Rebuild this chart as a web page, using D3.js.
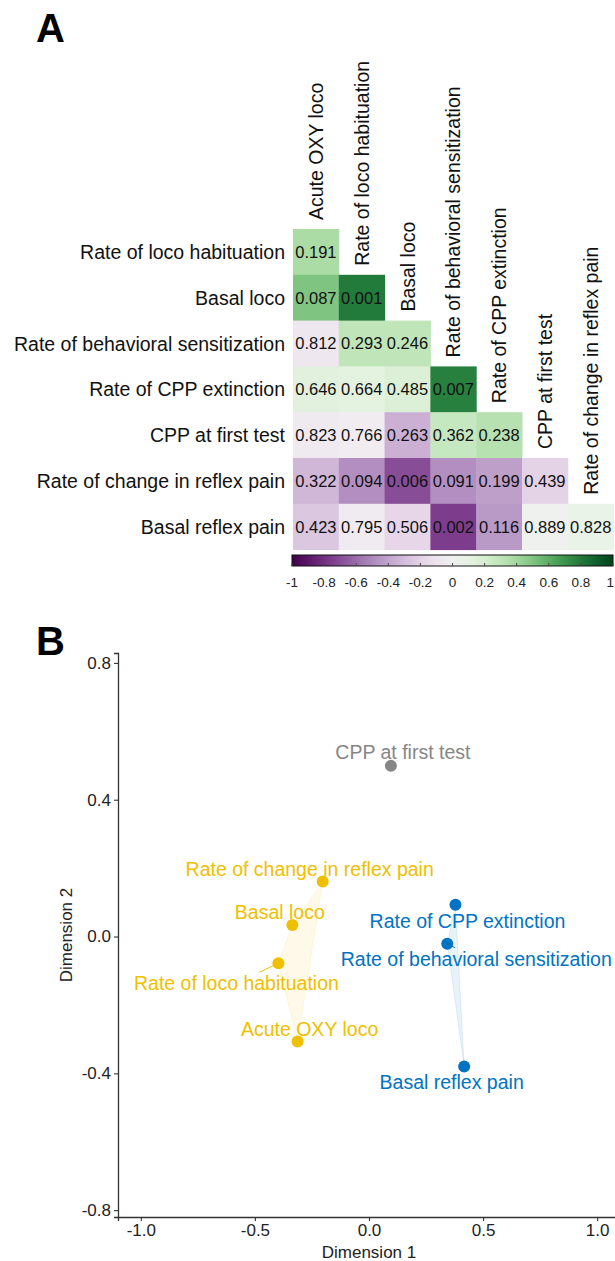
<!DOCTYPE html>
<html>
<head>
<meta charset="utf-8">
<script src="https://cdn.jsdelivr.net/npm/d3@7"></script>
<style>
  html, body { margin: 0; padding: 0; background: #fff; }
  svg { display: block; font-family: "Liberation Sans", Arial, sans-serif; }
</style>
</head>
<body>
<svg id="chart" width="615" height="1261"></svg>
<script>
// ---------- Panel A data ----------
const colLabels = ["Acute OXY loco", "Rate of loco habituation", "Basal loco",
  "Rate of behavioral sensitization", "Rate of CPP extinction", "CPP at first test",
  "Rate of change in reflex pain"];
const rowLabels = ["Rate of loco habituation", "Basal loco", "Rate of behavioral sensitization",
  "Rate of CPP extinction", "CPP at first test", "Rate of change in reflex pain", "Basal reflex pain"];
// correlation coefficients (cell colour), lower triangle, row by row
const corrRow1 = [0.37];
const corrRow2 = [0.50, 0.79];
const corrRow3 = [-0.08, 0.30, 0.30];
const corrRow4 = [0.14, 0.12, 0.17, 0.77];
const corrRow5 = [-0.06, -0.04, -0.35, 0.27, 0.33];
const corrRow6 = [-0.32, -0.48, -0.70, -0.48, -0.42, -0.20];
const corrRow7 = [-0.25, -0.05, -0.18, -0.75, -0.44, 0.01, 0.08];
// p-values printed in cells
const pRow1 = ["0.191"];
const pRow2 = ["0.087", "0.001"];
const pRow3 = ["0.812", "0.293", "0.246"];
const pRow4 = ["0.646", "0.664", "0.485", "0.007"];
const pRow5 = ["0.823", "0.766", "0.263", "0.362", "0.238"];
const pRow6 = ["0.322", "0.094", "0.006", "0.091", "0.199", "0.439"];
const pRow7 = ["0.423", "0.795", "0.506", "0.002", "0.116", "0.889", "0.828"];
const legendTicks = [-1, -0.8, -0.6, -0.4, -0.2, 0, 0.2, 0.4, 0.6, 0.8, 1];

// ---------- Panel B data ----------
const mdsNames = ["Acute OXY loco", "Rate of loco habituation", "Basal loco",
  "Rate of behavioral sensitization", "Rate of CPP extinction", "CPP at first test",
  "Rate of change in reflex pain", "Basal reflex pain"];
const dim1 = [-0.313, -0.397, -0.336, 0.343, 0.379, 0.096, -0.203, 0.417];
const dim2 = [-0.307, -0.078, 0.034, -0.021, 0.093, 0.499, 0.161, -0.380];
const cluster = [1, 1, 1, 2, 2, 3, 1, 2];
const xTicks = [-1.0, -0.5, 0.0, 0.5, 1.0];
const yTicks = [-0.8, -0.4, 0.0, 0.4, 0.8];

// ---------- layout / style ----------
const labelOffsets = [[12, -13], [-42, 20], [-12.5, -12.7], [29, 15], [12, 16], [12, -14], [-13, -12], [-12.5, 15]];
const clusterColor = {1: "#EFC000", 2: "#0073C2", 3: "#868686"};

const corrRows = [corrRow1, corrRow2, corrRow3, corrRow4, corrRow5, corrRow6, corrRow7];
const pRows = [pRow1, pRow2, pRow3, pRow4, pRow5, pRow6, pRow7];

const svg = d3.select("#chart");

// Panel letters
svg.append("text").attr("x", 36).attr("y", 42).text("A")
  .attr("font-size", 40).attr("font-weight", "bold").attr("fill", "#000");
svg.append("text").attr("x", 36).attr("y", 655).text("B")
  .attr("font-size", 40).attr("font-weight", "bold").attr("fill", "#000");

// ---------- Heatmap ----------
const gx = d3.scaleBand().domain(d3.range(colLabels.length)).range([293, 613.6]).padding(0);
const gy = d3.scaleBand().domain(d3.range(rowLabels.length)).range([229, 549.6]).padding(0);
const color = d3.scaleSequential(t => d3.interpolatePRGn(t)).domain([-1, 1]);

const cells = [];
corrRows.forEach((row, i) => row.forEach((r, j) => cells.push({i, j, r, p: pRows[i][j]})));

const hm = svg.append("g");
hm.selectAll("rect.cell").data(cells).join("rect")
  .attr("class", "cell")
  .attr("x", d => gx(d.j)).attr("y", d => gy(d.i))
  .attr("width", gx.bandwidth() + 0.5).attr("height", gy.bandwidth() + 0.5)
  .attr("fill", d => color(d.r));
hm.selectAll("text.val").data(cells).join("text")
  .attr("class", "val")
  .attr("x", d => gx(d.j) + gx.bandwidth() / 2)
  .attr("y", d => gy(d.i) + gy.bandwidth() / 2)
  .attr("dy", "0.36em").attr("text-anchor", "middle")
  .attr("font-size", 16.5).attr("fill", "#111")
  .text(d => d.p);

hm.selectAll("text.rowlab").data(rowLabels).join("text")
  .attr("class", "rowlab")
  .attr("x", 285).attr("y", (d, i) => gy(i) + gy.bandwidth() / 2)
  .attr("dy", "0.36em").attr("text-anchor", "end")
  .attr("font-size", 19.5).attr("fill", "#111")
  .text(d => d);

hm.selectAll("text.collab").data(colLabels).join("text")
  .attr("class", "collab")
  .attr("transform", (d, j) => `translate(${gx(j) + gx.bandwidth() / 2},${gy(j) - 9}) rotate(-90)`)
  .attr("dy", "0.36em").attr("text-anchor", "start")
  .attr("font-size", 19.5).attr("fill", "#111")
  .text(d => d);

// Colour bar
const lx = d3.scaleLinear().domain([-1, 1]).range([292, 613]);
const defs = svg.append("defs");
const grad = defs.append("linearGradient").attr("id", "cbar").attr("x1", "0%").attr("x2", "100%");
d3.range(0, 1.0001, 0.05).forEach(t => {
  grad.append("stop").attr("offset", (t * 100) + "%").attr("stop-color", d3.interpolatePRGn(t));
});
const cbTop = 555, cbH = 11;
svg.append("rect").attr("x", lx(-1)).attr("y", cbTop).attr("width", lx(1) - lx(-1)).attr("height", cbH)
  .attr("fill", "url(#cbar)").attr("stroke", "#111").attr("stroke-width", 1);
svg.append("g").selectAll("line").data(legendTicks).join("line")
  .attr("x1", d => lx(d)).attr("x2", d => lx(d))
  .attr("y1", cbTop + cbH - 3).attr("y2", cbTop + cbH)
  .attr("stroke", "#444").attr("stroke-width", 1);
svg.append("g").selectAll("text").data(legendTicks).join("text")
  .attr("x", (d, i) => i === legendTicks.length - 1 ? 614 : lx(d)).attr("y", 582).attr("dy", "0.36em")
  .attr("text-anchor", (d, i) => i === legendTicks.length - 1 ? "end" : "middle")
  .attr("font-size", 13.5).attr("fill", "#222")
  .text(d => d3.format("")(d).replace("−", "-"));

// ---------- MDS scatter ----------
const x = d3.scaleLinear().domain([-1.1, 1.1]).range([118, 620]);
const y = d3.scaleLinear().domain([-0.82, 0.829]).range([1217, 653]);

const pts = mdsNames.map((n, k) => ({name: n, x: dim1[k], y: dim2[k], c: cluster[k], off: labelOffsets[k]}));

// hulls
const sc = svg.append("g");
d3.groups(pts, d => d.c).forEach(([c, arr]) => {
  if (arr.length < 3) return;
  const hull = d3.polygonHull(arr.map(d => [x(d.x), y(d.y)]));
  sc.append("path").attr("d", "M" + hull.join("L") + "Z")
    .attr("fill", clusterColor[c]).attr("fill-opacity", 0.09)
    .attr("stroke", clusterColor[c]).attr("stroke-opacity", 0.1).attr("stroke-width", 1);
});

// axes
const yAxis = d3.axisLeft(y).tickValues(yTicks).tickFormat(d3.format(".1f")).tickSizeOuter(0).tickSize(4).tickPadding(3);
const xAxis = d3.axisBottom(x).tickValues(xTicks).tickFormat(d3.format(".1f")).tickSizeOuter(0).tickSize(4).tickPadding(3);
const ya = svg.append("g").attr("transform", "translate(118,0)").call(yAxis);
const xa = svg.append("g").attr("transform", "translate(0,1217)").call(xAxis);
[ya, xa].forEach(a => {
  a.select(".domain").attr("stroke", "#333").attr("stroke-width", 1.3);
  a.selectAll(".tick line").attr("stroke", "#333").attr("stroke-width", 1.1);
  a.selectAll(".tick text").attr("font-size", 17).attr("fill", "#222")
    .attr("font-family", "Liberation Sans, Arial, sans-serif");
});
xa.selectAll(".tick text").text(d => d3.format(".1f")(d).replace("−", "-"));
ya.selectAll(".tick text").text(d => d3.format(".1f")(d).replace("−", "-"));

svg.append("text").attr("x", x(0)).attr("y", 1258).attr("text-anchor", "middle")
  .attr("font-size", 17).attr("fill", "#222").text("Dimension 1");
svg.append("text").attr("transform", `translate(72,${(y.range()[0] + y.range()[1]) / 2}) rotate(-90)`)
  .attr("text-anchor", "middle").attr("font-size", 17).attr("fill", "#222").text("Dimension 2");

// labels with optional connector
const labs = sc.selectAll("text.lab").data(pts).join("text")
  .attr("class", "lab")
  .attr("x", d => x(d.x) + d.off[0]).attr("y", d => y(d.y) + d.off[1])
  .attr("dy", "0.36em").attr("text-anchor", "middle")
  .attr("font-size", 19.5).attr("fill", d => clusterColor[d.c])
  .text(d => d.name);

labs.each(function(d) {
  const dist = Math.hypot(d.off[0], d.off[1]);
  if (dist > 30) {
    const b = this.getBBox();
    const px = x(d.x), py = y(d.y);
    const cx = b.x + b.width / 2, cy = b.y + b.height / 2;
    const t = (b.y - py) / (cy - py);
    sc.insert("line", "text.lab")
      .attr("x1", px).attr("y1", py)
      .attr("x2", px + (cx - px) * t).attr("y2", py + (cy - py) * t)
      .attr("stroke", clusterColor[d.c]).attr("stroke-width", 1);
  }
});

sc.selectAll("circle").data(pts).join("circle")
  .attr("cx", d => x(d.x)).attr("cy", d => y(d.y)).attr("r", 6)
  .attr("fill", d => clusterColor[d.c]);
</script>
</body>
</html>
